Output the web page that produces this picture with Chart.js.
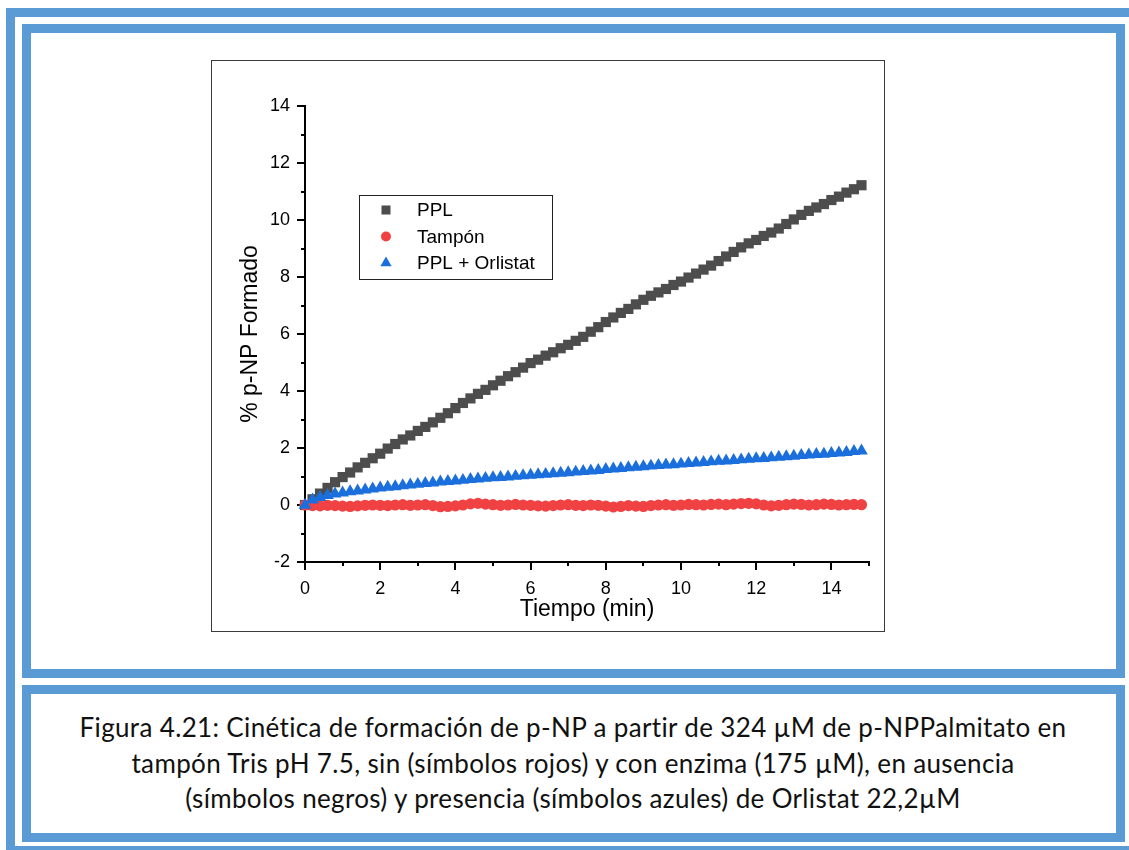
<!DOCTYPE html>
<html>
<head>
<meta charset="utf-8">
<script src="https://cdn.jsdelivr.net/npm/chart.js@4/dist/chart.umd.min.js"></script>
<style>
    body { margin: 0; width: 1129px; height: 850px; overflow: hidden; background: #fff; position: relative; }
    .frame { position: absolute; border: 9px solid #5b9bd5; box-sizing: border-box; }
    #outer { left: 6px; top: 8px; width: 1140px; height: 847px; }
    #panel { left: 22px; top: 24px; width: 1103px; height: 654px; }
    #capbox { left: 22px; top: 685px; width: 1103px; height: 157px; }
    #plotbox { position: absolute; left: 211px; top: 60px; width: 674px; height: 572px; border: 1px solid #3a3a3a; box-sizing: border-box; pointer-events: none; }
    #chart { position: absolute; left: 211px; top: 60px; }
    #caption {
        position: absolute; left: 31px; top: 710px; width: 1084px;
        text-align: center; font-family: "Lato", sans-serif; font-size: 26px;
        letter-spacing: 0.35px; line-height: 35.5px; color: #111;
    }
</style>
</head>
<body>
<div class="frame" id="outer"></div>
<div class="frame" id="panel"></div>
<div class="frame" id="capbox"></div>
<canvas id="chart" width="674" height="572"></canvas>
<div id="plotbox"></div>
<div id="caption">
    Figura 4.21: Cinética de formación de p-NP a partir de 324 µM de p-NPPalmitato en<br>
    tampón Tris pH 7.5, sin (símbolos rojos) y con enzima (175 µM), en ausencia<br>
    (símbolos negros) y presencia (símbolos azules) de Orlistat 22,2µM
</div>

<script>
// ============================
// DATA
// ============================
const seriesNames = ["PPL", "Tampón", "PPL + Orlistat"];

const tiempo = [0, 0.2, 0.4, 0.6, 0.8, 1, 1.2, 1.4, 1.6, 1.8, 2, 2.2, 2.4, 2.6, 2.8, 3, 3.2, 3.4, 3.6, 3.8,
    4, 4.2, 4.4, 4.6, 4.8, 5, 5.2, 5.4, 5.6, 5.8, 6, 6.2, 6.4, 6.6, 6.8, 7, 7.2, 7.4, 7.6, 7.8,
    8, 8.2, 8.4, 8.6, 8.8, 9, 9.2, 9.4, 9.6, 9.8, 10, 10.2, 10.4, 10.6, 10.8, 11, 11.2, 11.4, 11.6, 11.8,
    12, 12.2, 12.4, 12.6, 12.8, 13, 13.2, 13.4, 13.6, 13.8, 14, 14.2, 14.4, 14.6, 14.8];

const ppl = [0.00, 0.20, 0.40, 0.60, 0.80, 0.98, 1.14, 1.32, 1.48, 1.64,
    1.80, 1.98, 2.14, 2.30, 2.44, 2.60, 2.74, 2.90, 3.06, 3.22,
    3.40, 3.58, 3.74, 3.90, 4.04, 4.20, 4.36, 4.52, 4.66, 4.82,
    4.98, 5.10, 5.24, 5.36, 5.50, 5.62, 5.76, 5.90, 6.08, 6.24,
    6.42, 6.58, 6.74, 6.88, 7.04, 7.20, 7.34, 7.46, 7.58, 7.72,
    7.84, 7.98, 8.12, 8.26, 8.40, 8.56, 8.72, 8.88, 9.04, 9.18,
    9.30, 9.44, 9.56, 9.70, 9.86, 10.02, 10.18, 10.32, 10.44, 10.56,
    10.70, 10.82, 10.96, 11.08, 11.22];

const tampon = [0.00, -0.02, -0.03, -0.01, -0.02, -0.04, -0.05, -0.03, -0.01, 0.00,
    -0.01, -0.02, 0.00, 0.01, -0.01, 0.00, 0.01, -0.02, -0.06, -0.05,
    -0.03, 0.00, 0.04, 0.06, 0.03, 0.01, -0.01, 0.00, 0.02, 0.00,
    -0.01, -0.03, -0.04, -0.02, 0.00, 0.01, -0.01, -0.02, 0.00, -0.01,
    -0.04, -0.07, -0.05, -0.02, -0.04, -0.05, -0.02, 0.00, 0.01, -0.01,
    0.00, 0.02, 0.01, 0.00, 0.02, 0.03, 0.01, 0.03, 0.05, 0.06,
    0.04, 0.00, -0.03, -0.01, 0.01, 0.03, 0.02, 0.00, 0.01, 0.03,
    0.02, 0.00, 0.01, 0.02, 0.01];

const orlistat = [0.00, 0.18, 0.27, 0.34, 0.39, 0.43, 0.47, 0.50, 0.53, 0.57,
    0.60, 0.63, 0.65, 0.68, 0.71, 0.73, 0.76, 0.78, 0.81, 0.83,
    0.85, 0.87, 0.90, 0.92, 0.94, 0.96, 0.97, 0.99, 1.01, 1.03,
    1.05, 1.07, 1.08, 1.10, 1.12, 1.14, 1.16, 1.18, 1.20, 1.22,
    1.25, 1.27, 1.29, 1.31, 1.33, 1.35, 1.37, 1.39, 1.41, 1.42,
    1.44, 1.46, 1.48, 1.50, 1.52, 1.54, 1.55, 1.57, 1.59, 1.61,
    1.63, 1.64, 1.66, 1.68, 1.70, 1.72, 1.74, 1.76, 1.78, 1.79,
    1.81, 1.83, 1.85, 1.88, 1.90];

const xTicks = [0, 2, 4, 6, 8, 10, 12, 14];
const yTicks = [-2, 0, 2, 4, 6, 8, 10, 12, 14];

const AXIS_FONT = "'Liberation Sans', Arial, sans-serif";

function toPoints(values) {
    return tiempo.map((t, i) => ({ x: t, y: values[i] }));
}

// ============================
// AXES: black lines + outward ticks (major + minor)
// ============================
const originAxes = {
    id: "originAxes",
    beforeDatasetsDraw(chart) {
        const { ctx, chartArea: a, scales: { x, y } } = chart;
        ctx.save();
        ctx.strokeStyle = "#000";
        ctx.lineWidth = 2;
        ctx.lineCap = "square";

        ctx.beginPath();
        ctx.moveTo(a.left, a.top);
        ctx.lineTo(a.left, a.bottom);
        ctx.lineTo(a.right, a.bottom);
        ctx.stroke();

        ctx.lineCap = "butt";
        ctx.beginPath();
        x.ticks.forEach(t => {
            const px = Math.round(x.getPixelForValue(t.value));
            const len = xTicks.includes(t.value) ? 8 : 4;
            ctx.moveTo(px, a.bottom);
            ctx.lineTo(px, a.bottom + len);
        });
        y.ticks.forEach(t => {
            const py = Math.round(y.getPixelForValue(t.value));
            const len = yTicks.includes(t.value) ? 8 : 4;
            ctx.moveTo(a.left, py);
            ctx.lineTo(a.left - len, py);
        });
        ctx.stroke();
        ctx.restore();
    }
};

// ============================
// LEGEND: boxed, inside plot area
// ============================
const boxLegend = {
    id: "boxLegend",
    afterDraw(chart) {
        const { ctx, chartArea: a } = chart;
        const left = a.left + 54, top = a.top + 89;
        const w = 193, h = 84, rowH = 26.5;

        ctx.save();
        ctx.fillStyle = "#fff";
        ctx.fillRect(left, top, w, h);
        ctx.strokeStyle = "#222";
        ctx.lineWidth = 1;
        ctx.strokeRect(left + 0.5, top + 0.5, w, h);

        ctx.font = "19px " + AXIS_FONT;
        ctx.textBaseline = "middle";
        chart.data.datasets.forEach((ds, i) => {
            const cy = top + 15 + i * rowH;
            ctx.fillStyle = ds.pointBackgroundColor;
            Chart.helpers.drawPoint(ctx, {
                pointStyle: ds.pointStyle,
                radius: ds.legendRadius,
                rotation: 0,
                borderWidth: 0
            }, left + 27, cy);
            ctx.fillStyle = "#000";
            ctx.fillText(ds.label, left + 58, cy + 1);
        });
        ctx.restore();
    }
};

// ============================
// CHART
// ============================
const ctx = document.getElementById("chart");

new Chart(ctx, {
    type: "scatter",
    data: {
        datasets: [
            {
                label: seriesNames[0],
                data: toPoints(ppl),
                pointStyle: "rect",
                pointRadius: 7.2,
                legendRadius: 6.4,
                pointBackgroundColor: "#4d4d4d",
                pointBorderWidth: 0,
                clip: false,
                order: 3
            },
            {
                label: seriesNames[1],
                data: toPoints(tampon),
                pointStyle: "circle",
                pointRadius: 5.6,
                legendRadius: 5,
                pointBackgroundColor: "#f04242",
                pointBorderWidth: 0,
                clip: false,
                order: 2
            },
            {
                label: seriesNames[2],
                data: toPoints(orlistat),
                pointStyle: "triangle",
                pointRadius: 7.3,
                legendRadius: 6.5,
                pointBackgroundColor: "#1b6fdd",
                pointBorderWidth: 0,
                clip: false,
                order: 1
            }
        ]
    },
    options: {
        responsive: false,
        animation: false,
        layout: { padding: { left: 22, top: 46, right: 14, bottom: 5 } },
        plugins: {
            legend: { display: false },
            tooltip: { enabled: false }
        },
        scales: {
            x: {
                type: "linear",
                min: 0,
                max: 15,
                afterFit(scale) { scale.height = 65; },
                grid: { display: false, drawTicks: false },
                border: { display: false },
                ticks: {
                    stepSize: 1,
                    autoSkip: false,
                    maxRotation: 0,
                    padding: 16,
                    color: "#000",
                    font: { family: AXIS_FONT, size: 18 },
                    callback: v => xTicks.includes(v) ? String(v) : ""
                },
                title: {
                    display: true,
                    text: "Tiempo (min)",
                    color: "#000",
                    font: { family: AXIS_FONT, size: 23 }
                }
            },
            y: {
                type: "linear",
                min: -2,
                max: 14,
                afterFit(scale) { scale.width = 72; },
                grid: { display: false, drawTicks: false },
                border: { display: false },
                ticks: {
                    stepSize: 1,
                    autoSkip: false,
                    padding: 15,
                    color: "#000",
                    font: { family: AXIS_FONT, size: 18 },
                    callback: v => yTicks.includes(v) ? String(v) : ""
                },
                title: {
                    display: true,
                    text: "% p-NP Formado",
                    color: "#000",
                    font: { family: AXIS_FONT, size: 23 }
                }
            }
        }
    },
    plugins: [originAxes, boxLegend]
});
</script>
</body>
</html>
